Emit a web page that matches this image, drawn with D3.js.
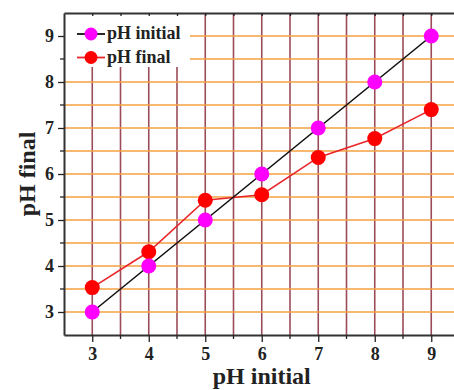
<!DOCTYPE html>
<html>
<head>
<meta charset="utf-8">
<script src="https://cdn.jsdelivr.net/npm/d3@7"></script>
<style>
	body { margin: 0; background: #fff; }
	svg { display: block; }
	text { font-family: "Liberation Serif", "Times New Roman", serif; font-weight: bold; fill: #222; }
</style>
</head>
<body>
<svg id="chart" width="454" height="390"></svg>
<script>
// data
var phInitial = [3, 4, 5, 6, 7, 8, 9];
var phInitialY = [3, 4, 5, 6, 7, 8, 9];
var phFinal = [3.53, 4.31, 5.43, 5.55, 6.36, 6.77, 7.4];
var tickValues = [3, 4, 5, 6, 7, 8, 9];
var minorTicks = [3.5, 4.5, 5.5, 6.5, 7.5, 8.5];
var gridValues = [3, 3.5, 4, 4.5, 5, 5.5, 6, 6.5, 7, 7.5, 8, 8.5, 9];
var seriesNames = ["pH initial", "pH final"];

var svg = d3.select("#chart");

var x = d3.scaleLinear().domain([2.5, 9.5]).range([64, 459.5]);
var y = d3.scaleLinear().domain([2.5, 9.5]).range([335, 13]);

// legend area covers part of the grid
var leg = {x0: 64, x1: 190, y0: 13, y1: 67};

// vertical grid (brown)
svg.append("g").selectAll("line")
	.data(gridValues)
	.enter().append("line")
	.attr("x1", d => x(d)).attr("x2", d => x(d))
	.attr("y1", d => x(d) < leg.x1 ? leg.y1 : y(9.5))
	.attr("y2", y(2.5))
	.attr("stroke", "#9c4b58")
	.attr("stroke-width", 1.6);

// horizontal grid (orange)
svg.append("g").selectAll("line")
	.data(gridValues)
	.enter().append("line")
	.attr("x1", d => y(d) < leg.y1 ? leg.x1 : x(2.5))
	.attr("x2", x(9.5))
	.attr("y1", d => y(d)).attr("y2", d => y(d))
	.attr("stroke", "#f5a042")
	.attr("stroke-width", 1.6);

// axes
var fmt = d3.format("d");

var xAxis = svg.append("g").attr("transform", "translate(0," + y(2.5) + ")")
	.call(d3.axisBottom(x).tickValues(tickValues).tickFormat(fmt).tickSize(7).tickSizeOuter(0).tickPadding(5));
xAxis.append("g").selectAll("line").data(minorTicks).enter().append("line")
	.attr("x1", d => x(d)).attr("x2", d => x(d)).attr("y1", 0).attr("y2", 4)
	.attr("stroke", "#222").attr("stroke-width", 1.3);

var yAxis = svg.append("g").attr("transform", "translate(" + x(2.5) + ",0)")
	.call(d3.axisLeft(y).tickValues(tickValues).tickFormat(fmt).tickSize(6).tickSizeOuter(0).tickPadding(4));
yAxis.append("g").selectAll("line").data(minorTicks).enter().append("line")
	.attr("x1", 0).attr("x2", -4).attr("y1", d => y(d)).attr("y2", d => y(d))
	.attr("stroke", "#222").attr("stroke-width", 1.3);

// top mirror ticks
var topAxis = svg.append("g").attr("transform", "translate(0," + y(9.5) + ")")
	.call(d3.axisTop(x).tickValues(gridValues).tickSize(-3).tickSizeOuter(0).tickFormat(""));

[xAxis, yAxis, topAxis].forEach(function(a) {
	a.select(".domain").attr("stroke", "#333").attr("stroke-width", 2);
	a.selectAll(".tick line").attr("stroke", "#222").attr("stroke-width", 1.3);
	a.selectAll(".tick text").style("font-family", "Liberation Serif").style("font-size", "18px")
		.style("font-weight", "bold").attr("fill", "#222");
});

// axis titles
svg.append("text")
	.attr("x", (x(2.5) + x(9.5)) / 2)
	.attr("y", 384)
	.attr("text-anchor", "middle")
	.style("font-size", "24px")
	.text("pH initial");

svg.append("text")
	.attr("transform", "translate(35," + (y(2.5) + y(9.5)) / 2 + ") rotate(-90)")
	.attr("text-anchor", "middle")
	.style("font-size", "24px")
	.text("pH final");

// series
var lineInit = d3.line().x((d, i) => x(phInitial[i])).y(d => y(d));

svg.append("path").datum(phFinal)
	.attr("d", lineInit)
	.attr("fill", "none").attr("stroke", "#e8262a").attr("stroke-width", 1.6);
svg.append("g").selectAll("circle").data(phFinal).enter().append("circle")
	.attr("cx", (d, i) => x(phInitial[i])).attr("cy", d => y(d)).attr("r", 7.5)
	.attr("fill", "#ff0000");

svg.append("path").datum(phInitialY)
	.attr("d", lineInit)
	.attr("fill", "none").attr("stroke", "#111").attr("stroke-width", 1.6);
svg.append("g").selectAll("circle").data(phInitialY).enter().append("circle")
	.attr("cx", (d, i) => x(phInitial[i])).attr("cy", d => y(d)).attr("r", 7.5)
	.attr("fill", "#ff00ff");

// legend
var legColors = [{line: "#111", dot: "#ff00ff"}, {line: "#e8262a", dot: "#ff0000"}];
var items = svg.append("g").selectAll("g").data(seriesNames).enter().append("g")
	.attr("transform", (d, i) => "translate(0," + (34 + i * 23.5) + ")");
items.append("line").attr("x1", 77).attr("x2", 105).attr("y1", 0).attr("y2", 0)
	.attr("stroke", (d, i) => legColors[i].line).attr("stroke-width", 1.8);
items.append("circle").attr("cx", 91).attr("cy", 0).attr("r", 6.5)
	.attr("fill", (d, i) => legColors[i].dot);
items.append("text").attr("x", 107).attr("y", 5).style("font-size", "18px").text(d => d);
</script>
</body>
</html>
